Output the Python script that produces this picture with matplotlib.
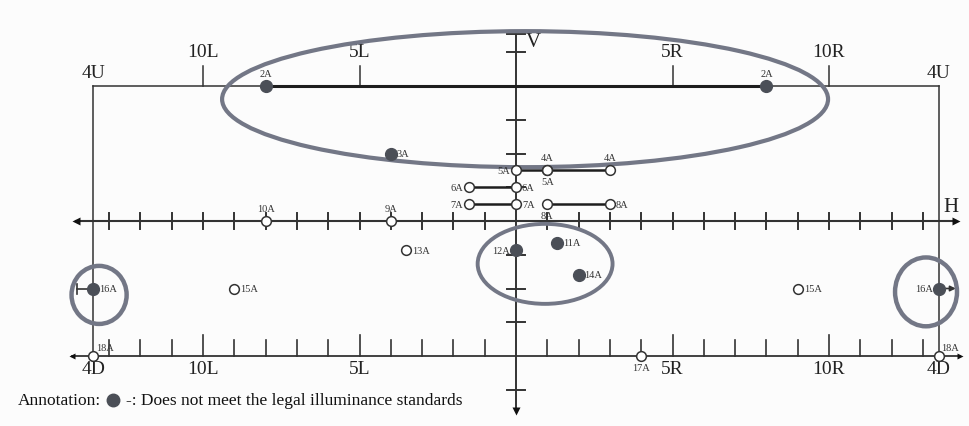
import matplotlib.pyplot as plt
from matplotlib.patches import Ellipse

# test points on the screen (degrees: h = left/right, v = up/down)
point_names = ['2A', '2A', '3A', '5A', '4A', '5A', '4A', '6A', '6A', '7A', '7A', '8A', '8A',
               '9A', '10A', '11A', '12A', '13A', '14A', '15A', '15A', '16A', '16A', '17A', '18A', '18A']
point_h = [-8, 8, -4, 0, 1, 1, 3, -1.5, 0, -1.5, 0, 1, 3,
           -4, -8, 1.3, 0, -3.5, 2, -9, 9, -13.5, 13.5, 4, -13.5, 13.5]
point_v = [4, 4, 2, 1.5, 1.5, 1.5, 1.5, 1, 1, 0.5, 0.5, 0.5, 0.5,
           0, 0, -0.65, -0.86, -0.86, -1.6, -2, -2, -2, -2, -4, -4, -4]
point_fail = [1, 1, 1, 0, 0, 0, 0, 0, 0, 0, 0, 0, 0,
              0, 0, 1, 1, 0, 1, 0, 0, 1, 1, 0, 0, 0]

# where each label sits relative to its point
label_side = ['up', 'up', 'right', 'left', 'up', 'down', 'up', 'left', 'right', 'left', 'right', 'down', 'right',
              'up', 'up', 'right', 'left', 'right', 'right', 'right', 'right', 'right', 'left', 'down', 'upright', 'upright']

# connecting lines between point pairs
line_h0 = [-8, 0, -1.5, -1.5, 1]
line_h1 = [8, 3, 0, 0, 3]
line_v = [4, 1.5, 1, 0.5, 0.5]

top_ticks = [-10, -5, 5, 10]
top_labels = ['10L', '5L', '5R', '10R']
v_ticks = [5.55, 5, 3, 2, 1, -1, -2, -3, -5]
edge = 13.5

# pixel scale of the sheet
PX_X0, PX_PER_H = 516, 31.3
PX_Y0, PX_PER_V = 222, 33.75
W, H = 969, 427

ink = '#333333'
ring = '#737786'
dot = '#4b4f57'
serif = ['Liberation Serif', 'DejaVu Serif']

fig = plt.figure(figsize=(W / 100, H / 100), dpi=100, facecolor='#fcfcfc')
ax = fig.add_axes([0, 0, 1, 1])
ax.set_xlim(-PX_X0 / PX_PER_H, (W - PX_X0) / PX_PER_H)
ax.set_ylim((PX_Y0 - H) / PX_PER_V, PX_Y0 / PX_PER_V)
ax.axis('off')
ax.set_facecolor('#fcfcfc')

def dx(px):
    return px / PX_PER_H

def dy(px):
    return px / PX_PER_V

# frame: 4U line on top, sides down to 4D
ax.plot([-edge, edge], [4, 4], color=ink, lw=1.1)
ax.plot([-edge, -edge], [4, -4], color=ink, lw=1.1)
ax.plot([edge, edge], [4, -4], color=ink, lw=1.1)
for t, lab in zip(top_ticks, top_labels):
    ax.plot([t, t], [4, 4 + dy(20)], color=ink, lw=1.1)
    ax.text(t, 4 + dy(26), lab, ha='center', va='bottom', fontsize=14, family=serif, color='#222')
    ax.text(t, -4 - dy(4), lab, ha='center', va='top', fontsize=14, family=serif, color='#222')
for s in (-edge, edge):
    ax.text(s, 4 + dy(5), '4U', ha='center', va='bottom', fontsize=14, family=serif, color='#222')
    ax.text(s, -4 - dy(4), '4D', ha='center', va='top', fontsize=14, family=serif, color='#222')

# H axis
h_end = dx(440)
ax.plot([-h_end, h_end], [0, 0], color=ink, lw=1.5)
ax.plot([-h_end], [0], marker='<', ms=6, color='#111', mec='none')
ax.plot([h_end], [0], marker='>', ms=6, color='#111', mec='none')
for i in range(-13, 14):
    if i != 0:
        ax.plot([i, i], [-dy(8), dy(8)], color=ink, lw=1.4)
ax.text(edge + dx(5), dy(5), 'H', ha='left', va='bottom', fontsize=15, family=serif, color='#222')

# 4D line with scale ticks
b_end = dx(444)
ax.plot([-b_end, b_end], [-4, -4], color=ink, lw=1.3)
ax.plot([-b_end], [-4], marker='<', ms=5, color='#111', mec='none')
ax.plot([b_end], [-4], marker='>', ms=5, color='#111', mec='none')
for i in range(-13, 14):
    if i != 0:
        tl = dy(21) if abs(i) in (5, 10) else dy(16)
        ax.plot([i, i], [-4, -4 + tl], color=ink, lw=1.2)

# V axis
v_bot = (PX_Y0 - 412) / PX_PER_V
ax.plot([0, 0], [5.55, v_bot], color=ink, lw=1.4)
ax.plot([0], [v_bot], marker='v', ms=6, color='#111', mec='none')
for t in v_ticks:
    ax.plot([-dx(9), dx(9)], [t, t], color=ink, lw=1.4)
ax.text(dx(10), 5.6, 'V', ha='left', va='top', fontsize=15, family=serif, color='#222')

# connecting lines
for a, b, v in zip(line_h0, line_h1, line_v):
    ax.plot([a, b], [v, v], color='#1e1e1e', lw=2.2 if v == 4 else 1.8, zorder=3)

# highlight rings
ax.add_patch(Ellipse((0.29, 3.61), 19.36, 4.03, fill=False, ec=ring, lw=3.0, zorder=4))
ax.add_patch(Ellipse((0.93, -1.27), 4.31, 2.37, fill=False, ec=ring, lw=2.8, zorder=4))
ax.add_patch(Ellipse((-13.32, -2.19), 1.76, 1.72, fill=False, ec=ring, lw=3.2, zorder=4))
ax.add_patch(Ellipse((13.1, -2.1), 1.98, 2.04, fill=False, ec=ring, lw=3.2, zorder=4))

# short markers beside the 16A points
ax.plot([-edge - dx(16), -edge], [-2, -2], color=ink, lw=1.2)
ax.plot([-edge - dx(16)] * 2, [-2 - dy(5), -2 + dy(5)], color=ink, lw=1.2)
ax.annotate('', xy=(edge + dx(20), -2), xytext=(edge, -2),
            arrowprops=dict(arrowstyle='-|>', color=ink, lw=1.2, mutation_scale=8))

# points and labels
offsets = {
    'up': (0, dy(8), 'center', 'bottom'),
    'down': (0, -dy(7), 'center', 'top'),
    'left': (-dx(6), 0, 'right', 'center'),
    'right': (dx(6), 0, 'left', 'center'),
    'upright': (dx(3), dy(4), 'left', 'bottom'),
}
for name, h, v, fail, side in zip(point_names, point_h, point_v, point_fail, label_side):
    if fail:
        ax.plot(h, v, 'o', ms=8.5, color=dot, mec=dot, zorder=6)
    else:
        ax.plot(h, v, 'o', ms=7, mfc='white', mec=ink, mew=1.1, zorder=6)
    ox, oy, ha, va = offsets[side]
    ax.text(h + ox, v + oy, name, ha=ha, va=va, fontsize=7.5, family=serif, color='#333', zorder=7)

# annotation line under the chart
ty = (PX_Y0 - 401) / PX_PER_V
ax.text(-PX_X0 / PX_PER_H + dx(18), ty, 'Annotation:', ha='left', va='center', fontsize=12.5, family=serif, color='#111')
ax.plot(-PX_X0 / PX_PER_H + dx(113), ty, 'o', ms=9, color=dot)
ax.text(-PX_X0 / PX_PER_H + dx(126), ty, '-: Does not meet the legal illuminance standards',
        ha='left', va='center', fontsize=12.5, family=serif, color='#111')

fig.savefig('out.png', dpi=100, facecolor=fig.get_facecolor())
